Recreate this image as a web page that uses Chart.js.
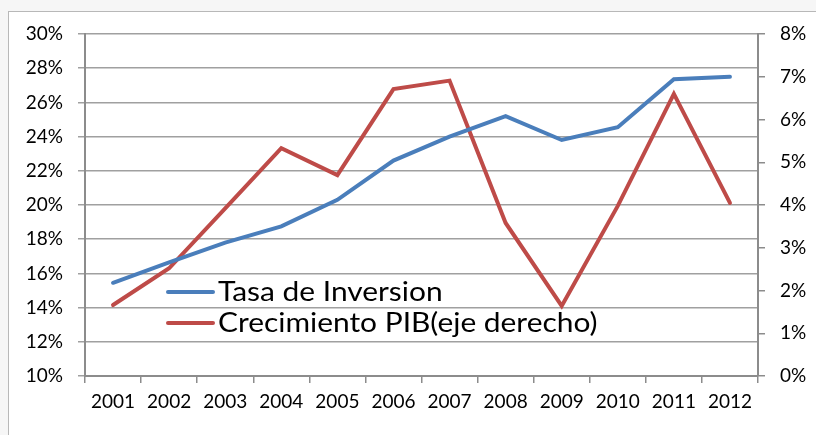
<!DOCTYPE html>
<html lang="es">
<head>
    <meta charset="UTF-8">
    <title>Tasa de Inversion y Crecimiento PIB</title>
    <script src="https://cdn.jsdelivr.net/npm/chart.js"></script>
    <style>
        body, html {
            margin: 0;
            padding: 0;
            width: 816px;
            height: 435px;
            overflow: hidden;
            background: #f6f6f6;
            font-family: Lato, Arial, sans-serif;
        }
        .frame {
            position: absolute;
            left: 8px;
            top: 11px;
            width: 900px;
            height: 500px;
            background: #fff;
            border: 1px solid #b8b8b8;
        }
        canvas {
            position: absolute;
            left: 0;
            top: 0;
        }
    </style>
</head>
<body>
    <div class="frame"></div>
    <canvas id="chart" width="816" height="435"></canvas>

    <script>
        const years = ["2001", "2002", "2003", "2004", "2005", "2006", "2007", "2008", "2009", "2010", "2011", "2012"];
        const tasaInversion = [15.45, 16.65, 17.8, 18.75, 20.3, 22.6, 24.0, 25.2, 23.8, 24.55, 27.35, 27.5];
        const crecimientoPIB = [1.66, 2.52, 3.92, 5.33, 4.7, 6.71, 6.91, 3.58, 1.64, 3.98, 6.6, 4.05];
        const leftTicks = { min: 10, max: 30, step: 2 };
        const rightTicks = { min: 0, max: 8, step: 1 };

        const tickFont = { family: 'Lato, Arial, sans-serif', size: 19 };

        // legend drawn inside the plot area, like the original (text a bit wide)
        const insideLegend = {
            id: 'insideLegend',
            afterDatasetsDraw(chart) {
                const { ctx, chartArea } = chart;
                const x0 = chartArea.left + 83;
                const rows = [chartArea.top + 258, chartArea.top + 289];
                ctx.save();
                chart.data.datasets.forEach((ds, i) => {
                    const y = rows[i];
                    ctx.strokeStyle = ds.borderColor;
                    ctx.lineWidth = 4;
                    ctx.lineCap = 'round';
                    ctx.beginPath();
                    ctx.moveTo(x0, y);
                    ctx.lineTo(x0 + 45, y);
                    ctx.stroke();
                    ctx.save();
                    ctx.translate(x0 + 50, y + 1);
                    ctx.scale(1.15, 1);
                    ctx.fillStyle = '#000';
                    ctx.font = '26px Lato, Arial, sans-serif';
                    ctx.textBaseline = 'middle';
                    ctx.fillText(ds.label, 0, 0);
                    ctx.restore();
                });
                ctx.restore();
            }
        };

        new Chart(document.getElementById('chart'), {
            type: 'line',
            data: {
                labels: years,
                datasets: [
                    {
                        label: 'Tasa de Inversion',
                        data: tasaInversion,
                        yAxisID: 'y',
                        borderColor: '#4a7ebb',
                        borderWidth: 4,
                        borderCapStyle: 'round',
                        pointRadius: 0,
                        tension: 0
                    },
                    {
                        label: 'Crecimiento PIB(eje derecho)',
                        data: crecimientoPIB,
                        yAxisID: 'y1',
                        borderColor: '#be4b48',
                        borderWidth: 4,
                        borderCapStyle: 'round',
                        pointRadius: 0,
                        tension: 0
                    }
                ]
            },
            options: {
                responsive: false,
                animation: false,
                layout: { padding: { top: 34, left: 0, right: 0, bottom: 0 } },
                scales: {
                    x: {
                        offset: true,
                        grid: { offset: true, drawOnChartArea: false, color: '#8c8c8c', lineWidth: 1.5, tickLength: 7 },
                        border: { color: '#8c8c8c', width: 2 },
                        ticks: { color: '#000', font: tickFont, padding: 7, maxRotation: 0 },
                        afterFit: s => { s.height = 59; }
                    },
                    y: {
                        position: 'left',
                        min: leftTicks.min,
                        max: leftTicks.max,
                        grid: { color: '#a0a0a0', lineWidth: 1.5, tickLength: 7 },
                        border: { color: '#8c8c8c', width: 2 },
                        ticks: {
                            stepSize: leftTicks.step,
                            color: '#000',
                            font: tickFont,
                            padding: 15,
                            callback: v => v + '%'
                        },
                        afterFit: s => { s.width = 85; }
                    },
                    y1: {
                        position: 'right',
                        min: rightTicks.min,
                        max: rightTicks.max,
                        grid: { drawOnChartArea: false, color: '#8c8c8c', lineWidth: 1.5, tickLength: 7 },
                        border: { color: '#8c8c8c', width: 2 },
                        ticks: {
                            stepSize: rightTicks.step,
                            color: '#000',
                            font: tickFont,
                            padding: 15,
                            callback: v => v + '%'
                        },
                        afterFit: s => { s.width = 58; }
                    }
                },
                plugins: {
                    legend: { display: false },
                    tooltip: { enabled: false }
                }
            },
            plugins: [insideLegend]
        });
    </script>
</body>
</html>
